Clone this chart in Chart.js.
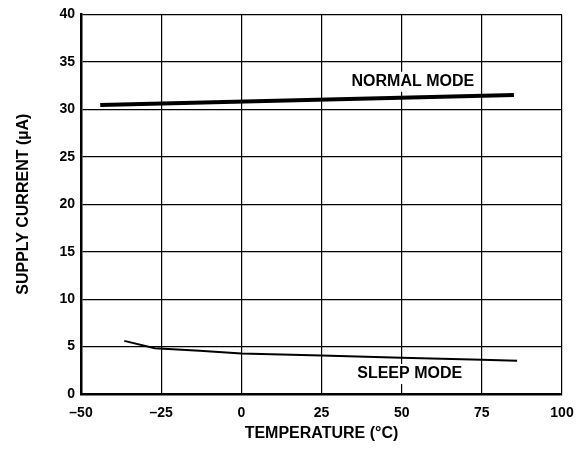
<!DOCTYPE html>
<html>
<head>
<meta charset="utf-8">
<script src="https://cdn.jsdelivr.net/npm/chart.js@4"></script>
<style>
  body { margin: 0; background: #fff; }
  #wrap { width: 588px; height: 449px; }
</style>
</head>
<body>
<div id="wrap"><canvas id="chart" width="588" height="449"></canvas></div>
<script>
// values
var normalTemp = [-44, 85];
var normalCurrent = [30.45, 31.5];
var sleepTemp = [-36.5, -27, -13, 0, 25, 50, 75, 86];
var sleepCurrent = [5.6, 4.83, 4.55, 4.27, 4.06, 3.82, 3.6, 3.5];
var xTickLabels = ['\u201350', '\u201325', '0', '25', '50', '75', '100'];
var yTickLabels = ['0', '5', '10', '15', '20', '25', '30', '35', '40'];
var curveLabels = [
  { text: 'NORMAL MODE', x: 53.5, y: 32.9 },
  { text: 'SLEEP MODE', x: 52.5, y: 2.1 }
];

var font = '"Liberation Sans", Arial, sans-serif';

function toPoints(xs, ys) {
  return xs.map(function (v, i) { return { x: v, y: ys[i] }; });
}

// labels sitting on the plot with a white box behind them
var curveLabelPlugin = {
  id: 'curveLabels',
  afterDatasetsDraw: function (chart) {
    var ctx = chart.ctx;
    var xs = chart.scales.x, ys = chart.scales.y;
    ctx.save();
    ctx.font = 'bold 16px ' + font;
    ctx.textAlign = 'center';
    ctx.textBaseline = 'middle';
    curveLabels.forEach(function (l) {
      var px = xs.getPixelForValue(l.x);
      var py = ys.getPixelForValue(l.y);
      var w = ctx.measureText(l.text).width;
      ctx.fillStyle = '#fff';
      ctx.fillRect(px - w / 2 - 5, py - 10, w + 10, 20);
      ctx.fillStyle = '#000';
      ctx.fillText(l.text, px, py);
    });
    ctx.restore();
  }
};

new Chart(document.getElementById('chart'), {
  type: 'line',
  data: {
    datasets: [
      {
        label: 'Normal mode',
        data: toPoints(normalTemp, normalCurrent),
        borderColor: '#000',
        borderWidth: 4,
        pointRadius: 0,
        tension: 0
      },
      {
        label: 'Sleep mode',
        data: toPoints(sleepTemp, sleepCurrent),
        borderColor: '#000',
        borderWidth: 2,
        pointRadius: 0,
        tension: 0
      }
    ]
  },
  options: {
    responsive: false,
    animation: false,
    layout: { padding: { left: 14, right: 26, top: 2, bottom: 6 } },
    plugins: { legend: { display: false }, tooltip: { enabled: false } },
    scales: {
      x: {
        type: 'linear',
        min: -50,
        max: 100,
        afterFit: function (scale) { scale.height = 49; },
        ticks: {
          stepSize: 25,
          color: '#000',
          padding: 11,
          font: { family: font, size: 14, weight: 'bold' },
          callback: function (v) { return xTickLabels[(v + 50) / 25]; }
        },
        grid: { color: '#000', lineWidth: 1.2, drawTicks: false },
        border: { color: '#000', width: 2.5 },
        title: {
          display: true,
          text: 'TEMPERATURE (\u00b0C)',
          color: '#000',
          font: { family: font, size: 16, weight: 'bold' },
          padding: { top: 0, bottom: 0 }
        }
      },
      y: {
        min: 0,
        max: 40,
        afterFit: function (scale) { scale.width = 67; },
        ticks: {
          stepSize: 5,
          color: '#000',
          padding: 6,
          font: { family: font, size: 14, weight: 'bold' },
          callback: function (v) { return yTickLabels[v / 5]; }
        },
        grid: { color: '#000', lineWidth: 1.2, drawTicks: false },
        border: { color: '#000', width: 2.5 },
        title: {
          display: true,
          text: 'SUPPLY CURRENT (\u00b5A)',
          color: '#000',
          font: { family: font, size: 16, weight: 'bold' },
          padding: { top: 0, bottom: 0 }
        }
      }
    }
  },
  plugins: [curveLabelPlugin]
});
</script>
</body>
</html>
